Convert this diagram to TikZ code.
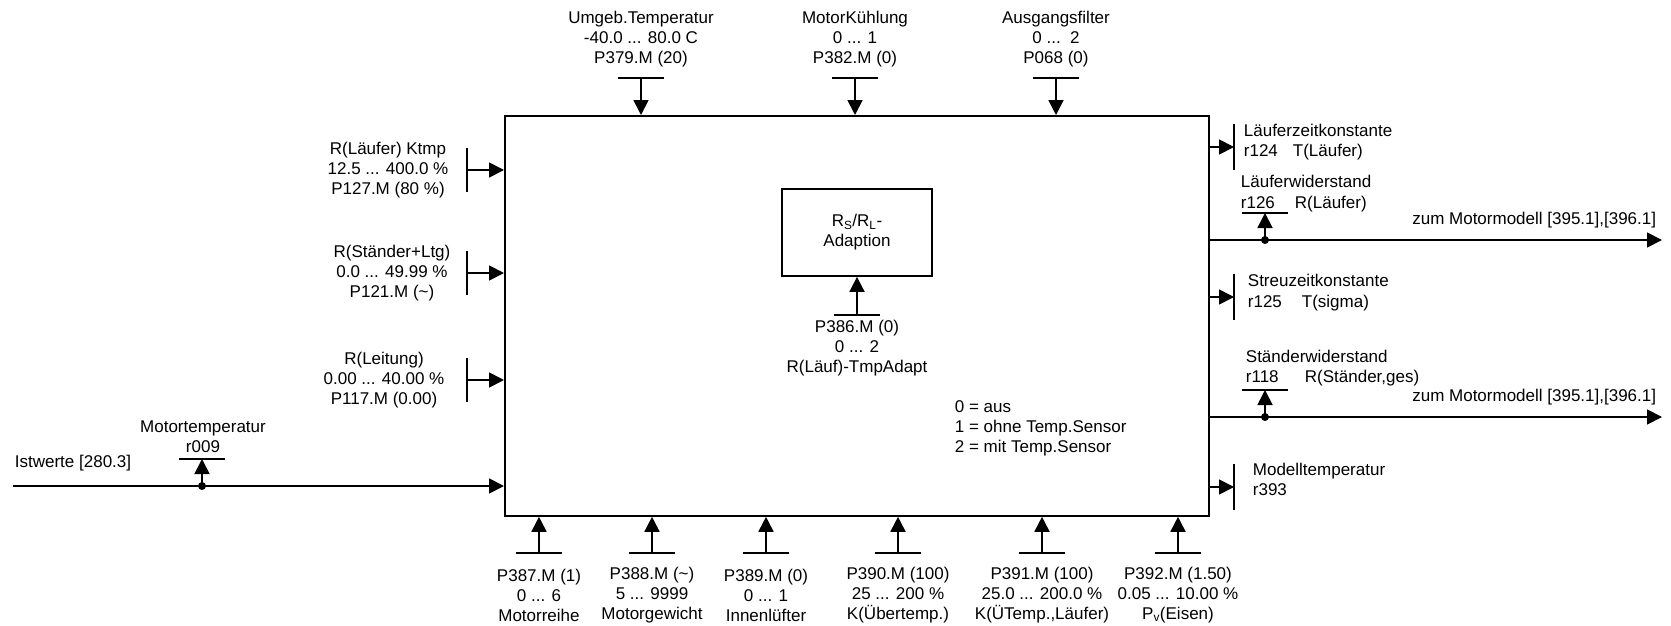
\documentclass[tikz,border=0pt]{standalone}
\usepackage{fontspec}
\setmainfont{Liberation Sans}
\usetikzlibrary{arrows.meta}
\begin{document}
\begin{tikzpicture}[x=1pt,y=-1pt, line width=1.8pt,
  font=\fontsize{17}{20}\selectfont,
  >={Triangle[length=15pt,width=15pt]},
  lbl/.style={align=center, inner sep=0pt},
  lft/.style={anchor=west, inner sep=0pt, text height=12pt, text depth=3.5pt},
  dot/.style={circle, fill, inner sep=0pt, minimum size=8pt},
  blk/.style={draw, inner sep=0pt}]
\useasboundingbox (0,0) rectangle (1671,626);

% main block
\node[blk, anchor=north west, minimum width=704pt, minimum height=400pt] (main) at (504,115) {};

% inner block
\node[blk, minimum width=150pt, minimum height=87pt, align=center] (ad) at (857,232.5)
  {R\textsubscript{S}/R\textsubscript{L}-\\Adaption};
\coordinate (ab) at (857,315);
\draw[->] (ab) -- (ad.south);
\draw ([xshift=-23pt]ab) -- ([xshift=23pt]ab);
\node[lbl] (abl) at (857,348) {P386.M (0)\\0 ... 2\\R(Läuf)-TmpAdapt};
\node[lbl, align=left, anchor=west] (leg) at (954,428) {0 = aus\\1 = ohne Temp.Sensor\\2 = mit Temp.Sensor};

% top inputs
\foreach \n/\x/\t in {t1/641/{Umgeb.Temperatur\\-40.0 ... 80.0 C\\P379.M (20)},
                      t2/855/{MotorKühlung\\0 ... 1\\P382.M (0)},
                      t3/1056/{Ausgangsfilter\\0 ...\ \ 2\\P068 (0)}}{
  \coordinate (\n) at (\x,78);
  \draw[->] (\n) -- (\n |- main.north);
  \draw ([xshift=-23pt]\n) -- ([xshift=23pt]\n);
  \node[lbl] (\n l) at (\x,39) {\t};
}

% left inputs
\foreach \n/\y/\lx/\t in {l1/170/388/{R(Läufer) Ktmp\\12.5 ... 400.0 \%\\P127.M (80 \%)},
                          l2/273/392/{R(Ständer+Ltg)\\0.0 ... 49.99 \%\\P121.M (\textasciitilde)},
                          l3/380/384/{R(Leitung)\\0.00 ... 40.00 \%\\P117.M (0.00)}}{
  \coordinate (\n) at (467,\y);
  \draw[->] (\n) -- (\n -| main.west);
  \draw ([yshift=-22pt]\n) -- ([yshift=22pt]\n);
  \node[lbl] (\n l) at (\lx,\y) {\t};
}

% Istwerte
\coordinate (ist) at (13,486);
\draw[->] (ist) -- (ist -| main.west);
\node[dot] (d0) at (202,486) {};
\coordinate (m0) at (202,459);
\draw[->] (d0.center) -- (m0);
\draw ([xshift=-23pt]m0) -- ([xshift=23pt]m0);
\node[lft] (istl) at (14,463) {Istwerte [280.3]};
\node[lbl] (m0l) at (203,437) {Motortemperatur\\r009};

% bottom inputs
\foreach \n/\x/\t in {b1/539/{P387.M (1)\\0 ... 6\\Motorreihe},
                      b2/652/{P388.M (\textasciitilde)\\5 ... 9999\\Motorgewicht},
                      b3/766/{P389.M (0)\\0 ... 1\\Innenlüfter},
                      b4/898/{P390.M (100)\\25 ... 200 \%\\K(Übertemp.)},
                      b5/1042/{P391.M (100)\\25.0 ... 200.0 \%\\K(ÜTemp.,Läufer)},
                      b6/1178/{P392.M (1.50)\\0.05 ... 10.00 \%\\P\textsubscript{v}(Eisen)}}{
  \coordinate (\n) at (\x,553);
  \draw[->] (\n) -- (\n |- main.south);
  \draw ([xshift=-23pt]\n) -- ([xshift=23pt]\n);
  \node[lbl] (\n l) at (\x,595) {\t};
}

% right short outputs
\foreach \n/\y in {r1/147, r2/297, r3/487}{
  \coordinate (\n) at (1234,\y);
  \draw[->] (\n -| main.east) -- (\n);
  \draw ([yshift=-23pt]\n) -- ([yshift=23pt]\n);
}
\node[lft] (r1a) at (1243,132) {Läuferzeitkonstante};
\node[lft] (r1b) at (1243,152) {r124};
\node[lft] (r1c) at (1292,152) {T(Läufer)};
\node[lft] (r2a) at (1247,282) {Streuzeitkonstante};
\node[lft] (r2b) at (1247,303) {r125};
\node[lft] (r2c) at (1301,303) {T(sigma)};
\node[lft] (r3a) at (1252,471) {Modelltemperatur};
\node[lft] (r3b) at (1252,491) {r393};

% long outputs
\foreach \n/\y in {o1/240, o2/417}{
  \coordinate (\n) at (1662,\y);
  \draw[->] (\n -| main.east) -- (\n);
  \node[dot] (\n d) at (1265,\y) {};
  \coordinate (\n m) at (1265,\y-27);
  \draw[->] (\n d.center) -- (\n m);
  \draw ([xshift=-23pt]\n m) -- ([xshift=23pt]\n m);
  \node[lft, anchor=east] (\n t) at (1657,\y-20) {zum Motormodell [395.1],[396.1]};
}
\node[lft] (o1a) at (1240,183) {Läuferwiderstand};
\node[lft] (o1b) at (1240,204) {r126};
\node[lft] (o1c) at (1294,204) {R(Läufer)};
\node[lft] (o2a) at (1245,358) {Ständerwiderstand};
\node[lft] (o2b) at (1245,378) {r118};
\node[lft] (o2c) at (1304,378) {R(Ständer,ges)};
\end{tikzpicture}
\end{document}
